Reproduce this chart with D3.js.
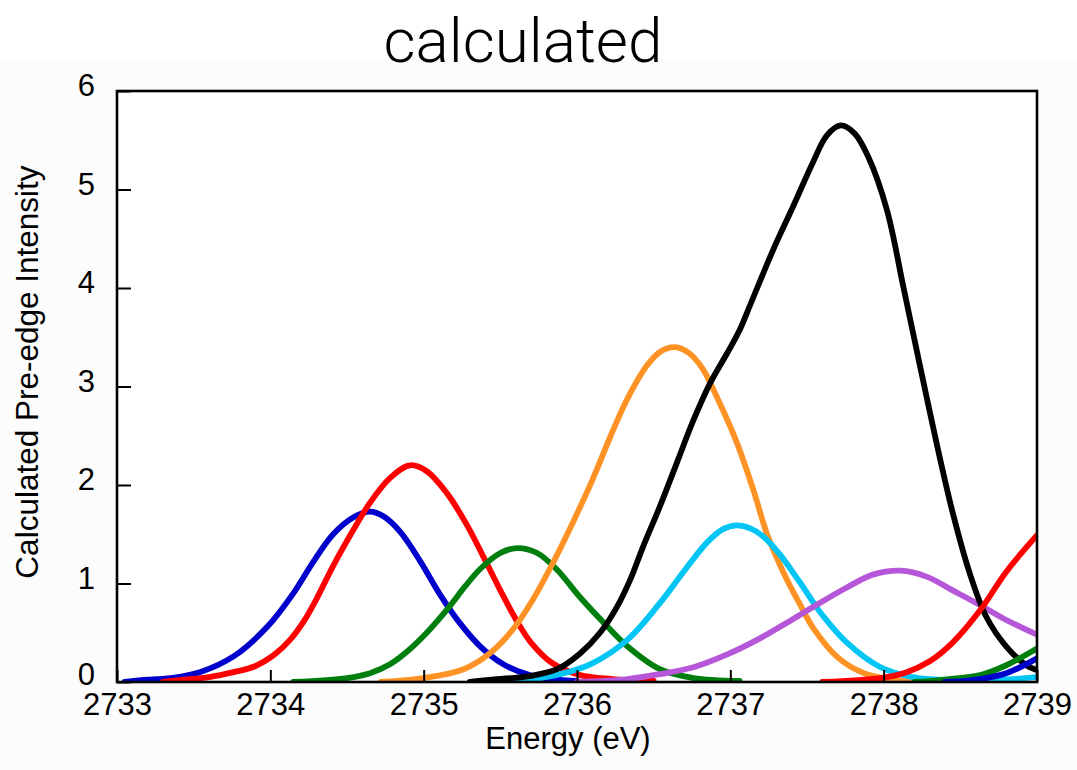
<!DOCTYPE html>
<html>
<head>
<meta charset="utf-8">
<script src="https://cdn.jsdelivr.net/npm/d3@7"></script>
<style>
  html, body { margin: 0; padding: 0; background: #ffffff; }
  svg { display: block; }
</style>
</head>
<body>
<svg id="chart" width="1077" height="770"></svg>
<script>
// Calculated pre-edge transitions: [energy (eV), intensity]
const blueA   = [[2733.05,0.0],[2733.16,0.02],[2733.35,0.04],[2733.54,0.10],[2733.76,0.26],[2733.98,0.56],[2734.15,0.90],[2734.28,1.22],[2734.41,1.50],[2734.54,1.67],[2734.65,1.73],[2734.74,1.68],[2734.85,1.52],[2734.98,1.22],[2735.11,0.88],[2735.24,0.59],[2735.37,0.36],[2735.52,0.18],[2735.69,0.07],[2735.84,0.03],[2736.0,0.01]];
const redA    = [[2733.3,0.0],[2733.41,0.02],[2733.6,0.05],[2733.76,0.10],[2733.90,0.16],[2734.02,0.27],[2734.13,0.43],[2734.22,0.62],[2734.30,0.84],[2734.41,1.18],[2734.54,1.54],[2734.65,1.82],[2734.78,2.07],[2734.91,2.20],[2735.02,2.14],[2735.15,1.92],[2735.28,1.60],[2735.39,1.27],[2735.50,0.93],[2735.60,0.64],[2735.70,0.40],[2735.84,0.19],[2736.02,0.07],[2736.23,0.03],[2736.5,0.01]];
const greenA  = [[2734.15,0.0],[2734.5,0.04],[2734.65,0.09],[2734.78,0.18],[2734.90,0.32],[2735.02,0.50],[2735.16,0.75],[2735.27,0.97],[2735.37,1.15],[2735.50,1.31],[2735.61,1.36],[2735.74,1.31],[2735.87,1.14],[2736.02,0.86],[2736.20,0.56],[2736.33,0.36],[2736.54,0.13],[2736.76,0.04],[2737.06,0.01]];
const orangeA = [[2734.72,0.0],[2735.0,0.04],[2735.26,0.13],[2735.43,0.29],[2735.58,0.53],[2735.71,0.83],[2735.84,1.20],[2735.97,1.61],[2736.10,2.05],[2736.22,2.50],[2736.33,2.88],[2736.46,3.22],[2736.55,3.36],[2736.64,3.40],[2736.73,3.34],[2736.82,3.18],[2736.91,2.90],[2737.04,2.44],[2737.15,1.95],[2737.24,1.50],[2737.35,1.10],[2737.45,0.80],[2737.54,0.55],[2737.70,0.25],[2737.87,0.09],[2738.04,0.03],[2738.2,0.0]];
const blackA  = [[2735.3,0.0],[2735.41,0.02],[2735.69,0.06],[2735.87,0.13],[2736.02,0.29],[2736.15,0.50],[2736.26,0.76],[2736.35,1.05],[2736.43,1.37],[2736.54,1.78],[2736.65,2.22],[2736.76,2.66],[2736.87,3.04],[2736.98,3.34],[2737.06,3.57],[2737.13,3.83],[2737.28,4.39],[2737.41,4.83],[2737.54,5.28],[2737.63,5.55],[2737.72,5.65],[2737.81,5.57],[2737.90,5.33],[2738.02,4.80],[2738.13,4.00],[2738.23,3.26],[2738.35,2.39],[2738.45,1.72],[2738.56,1.11],[2738.67,0.66],[2738.80,0.36],[2738.93,0.17],[2739.0,0.12]];
const cyanA   = [[2735.56,0.0],[2735.89,0.08],[2736.10,0.19],[2736.33,0.43],[2736.54,0.80],[2736.70,1.13],[2736.85,1.42],[2736.95,1.55],[2737.04,1.59],[2737.13,1.56],[2737.22,1.47],[2737.32,1.30],[2737.45,1.02],[2737.60,0.68],[2737.76,0.40],[2737.98,0.15],[2738.19,0.05],[2738.41,0.02],[2738.7,0.02],[2738.85,0.03],[2739.0,0.05]];
const purpleA = [[2736.0,0.0],[2736.33,0.03],[2736.54,0.08],[2736.76,0.15],[2736.98,0.28],[2737.19,0.44],[2737.41,0.64],[2737.58,0.80],[2737.76,0.96],[2737.93,1.09],[2738.11,1.13],[2738.28,1.07],[2738.45,0.93],[2738.63,0.78],[2738.80,0.63],[2739.0,0.48]];
const redB    = [[2737.6,0.0],[2737.98,0.04],[2738.15,0.10],[2738.30,0.21],[2738.45,0.40],[2738.63,0.73],[2738.80,1.12],[2739.0,1.49]];
const greenB  = [[2738.2,0.0],[2738.37,0.02],[2738.63,0.07],[2738.80,0.17],[2739.0,0.34]];
const blueB   = [[2738.4,0.0],[2738.58,0.02],[2738.80,0.09],[2739.0,0.24]];

const xTicks = [2733, 2734, 2735, 2736, 2737, 2738, 2739];
const yTicks = [0, 1, 2, 3, 4, 5, 6];

const series = [
  { data: blueA,   color: "#0000cd" },
  { data: redA,    color: "#ff0000" },
  { data: greenA,  color: "#007f0e" },
  { data: orangeA, color: "#ff9224" },
  { data: cyanA,   color: "#00c5f5" },
  { data: purpleA, color: "#b656d8" },
  { data: blackA,  color: "#000000" },
  { data: redB,    color: "#ff0000" },
  { data: greenB,  color: "#007f0e" },
  { data: blueB,   color: "#0000cd" }
];

const svg = d3.select("#chart");
const W = 1077, H = 770;
const plotL = 117, plotR = 1037, plotT = 91, plotB = 682;

svg.append("rect").attr("x", 0).attr("y", 0).attr("width", W).attr("height", H).attr("fill", "#ffffff");
svg.append("rect").attr("x", 0).attr("y", 58).attr("width", W).attr("height", H - 58).attr("fill", "#fcfcfc");

const x = d3.scaleLinear().domain([2733, 2739]).range([plotL, plotR]);
const y = d3.scaleLinear().domain([0, 6]).range([plotB, plotT]);

// plot background
svg.append("rect").attr("x", plotL).attr("y", plotT).attr("width", plotR - plotL).attr("height", plotB - plotT).attr("fill", "#ffffff");

svg.append("clipPath").attr("id", "plotClip")
  .append("rect").attr("x", plotL).attr("y", plotT - 5).attr("width", plotR - plotL).attr("height", plotB - plotT + 5);

const line = d3.line()
  .x(d => x(d[0]))
  .y(d => y(Math.max(0, d[1])))
  .curve(d3.curveCatmullRom.alpha(0.5));

const g = svg.append("g").attr("clip-path", "url(#plotClip)");
series.forEach(s => {
  g.append("path")
    .attr("d", line(s.data))
    .attr("fill", "none")
    .attr("stroke", s.color)
    .attr("stroke-width", 5.8)
    .attr("stroke-linejoin", "round")
    .attr("stroke-linecap", "round");
});

// axes: inward ticks on bottom and left
const xAxis = d3.axisBottom(x).tickValues(xTicks).tickSize(-12).tickPadding(18).tickFormat(d3.format("d"));
const yAxis = d3.axisLeft(y).tickValues(yTicks).tickSize(-14).tickPadding(22).tickFormat(d3.format("d"));

const gx = svg.append("g").attr("transform", `translate(0,${plotB})`).call(xAxis);
const gy = svg.append("g").attr("transform", `translate(${plotL},0)`).call(yAxis);

[gx, gy].forEach(a => {
  a.select(".domain").remove();
  a.selectAll(".tick line").attr("stroke", "#000").attr("stroke-width", 2);
  a.selectAll(".tick text")
    .attr("fill", "#000")
    .style("font-family", "'Liberation Sans', Arial, sans-serif")
    .style("font-size", "31px");
});
gx.selectAll(".tick text").attr("dy", null).attr("y", 33);
gy.selectAll(".tick text").attr("dy", "0.35em").attr("y", d => d === 0 ? -8 : -6);

// frame
svg.append("rect")
  .attr("x", plotL).attr("y", plotT)
  .attr("width", plotR - plotL).attr("height", plotB - plotT)
  .attr("fill", "none").attr("stroke", "#000").attr("stroke-width", 2.6);

// titles
svg.append("text")
  .attr("x", 523).attr("y", 62)
  .attr("text-anchor", "middle")
  .style("font-family", "Roboto, 'Liberation Sans', sans-serif")
  .style("font-weight", 300)
  .style("font-size", "62px")
  .attr("fill", "#000")
  .text("calculated");

svg.append("text")
  .attr("x", 568).attr("y", 749)
  .attr("text-anchor", "middle")
  .style("font-family", "'Liberation Sans', Arial, sans-serif")
  .style("font-size", "31px")
  .attr("fill", "#000")
  .text("Energy (eV)");

svg.append("text")
  .attr("transform", "translate(38,372) rotate(-90)")
  .attr("text-anchor", "middle")
  .style("font-family", "'Liberation Sans', Arial, sans-serif")
  .style("font-size", "31.5px")
  .attr("fill", "#000")
  .text("Calculated Pre-edge Intensity");
</script>
</body>
</html>
